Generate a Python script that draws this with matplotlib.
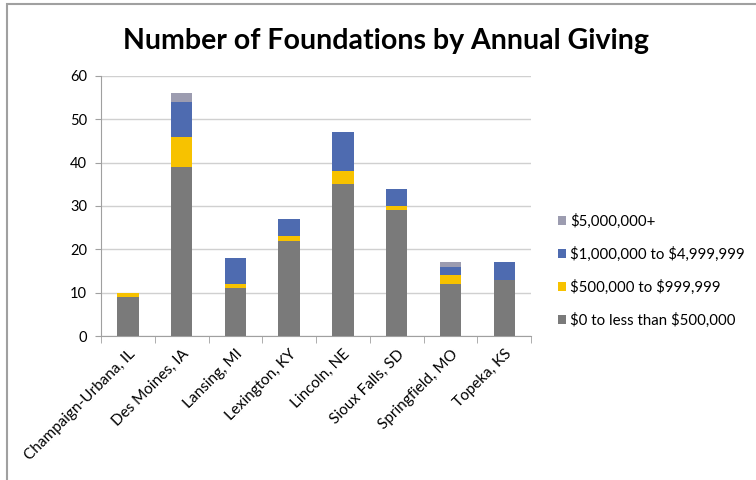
import matplotlib.pyplot as plt
import numpy as np
from matplotlib.patches import Rectangle

plt.rcParams['font.family'] = ['Lato', 'DejaVu Sans']

cities = ['Champaign-Urbana, IL', 'Des Moines, IA', 'Lansing, MI', 'Lexington, KY',
          'Lincoln, NE', 'Sioux Falls, SD', 'Springfield, MO', 'Topeka, KS']
under_500k = [9, 39, 11, 22, 35, 29, 12, 13]
k500_to_1m = [1, 7, 1, 1, 3, 1, 2, 0]
m1_to_5m = [0, 8, 6, 4, 9, 4, 2, 4]
over_5m = [0, 2, 0, 0, 0, 0, 1, 0]

series = [
    (r'\$0 to less than \$500,000', under_500k, '#7a7a7a'),
    (r'\$500,000 to \$999,999', k500_to_1m, '#f7c200'),
    (r'\$1,000,000 to \$4,999,999', m1_to_5m, '#4e6bb0'),
    (r'\$5,000,000+', over_5m, '#9c9cb0'),
]

fig = plt.figure(figsize=(7.56, 4.8), dpi=100)
ax = fig.add_axes([0.1336, 0.30, 0.569, 0.5417])

# chart border (cropped on right and bottom)
fig.patches.append(Rectangle((0.0093, -0.05), 1.05, 1.0417,
                             transform=fig.transFigure, fill=False,
                             edgecolor='#a0a0a0', linewidth=1.5))

x = np.arange(len(cities))
bottom = np.zeros(len(cities))
handles = []
for label, vals, color in series:
    b = ax.bar(x, vals, width=0.4, bottom=bottom, color=color, label=label, zorder=3)
    handles.append(b)
    bottom += np.array(vals)

ax.set_xlim(-0.5, len(cities) - 0.5)
ax.set_ylim(0, 60)
ax.set_yticks(range(0, 61, 10))
ax.grid(axis='y', color='#d0d0d0', linewidth=1, zorder=0)

ax.set_xticks(x)
ax.set_xticklabels(cities, rotation=45, ha='right', rotation_mode='anchor', fontsize=11)
ax.set_xticks(np.arange(-0.5, len(cities), 1), minor=True)
ax.tick_params(axis='x', which='major', length=0, pad=8)
ax.tick_params(axis='x', which='minor', length=5, color='#a0a0a0', direction='out')
ax.tick_params(axis='y', length=4, color='#a0a0a0', labelsize=10.5, pad=6)

for s in ['top', 'right']:
    ax.spines[s].set_visible(False)
for s in ['left', 'bottom']:
    ax.spines[s].set_color('#a0a0a0')

ax.legend(handles[::-1], [s[0] for s in series][::-1], loc='center left',
          bbox_to_anchor=(1.03, 0.25), frameon=False, fontsize=10.8,
          handlelength=0.55, handleheight=0.55, handletextpad=0.3, labelspacing=1.2)

fig.text(0.511, 0.915, 'Number of Foundations by Annual Giving', ha='center', va='center',
         fontsize=20.5, fontweight='bold')

fig.savefig('out.png', dpi=100)
